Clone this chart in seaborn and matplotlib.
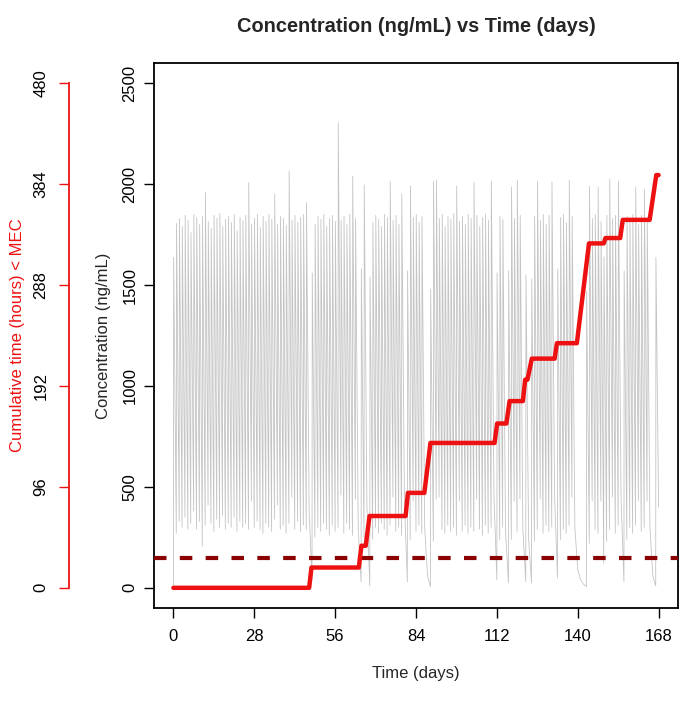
"""Concentration vs time with cumulative time below MEC on a second (left) axis."""
import numpy as np
import pandas as pd
import matplotlib
matplotlib.use("Agg")
import matplotlib.pyplot as plt
import seaborn as sns

NAN = np.nan

# peak concentration (ng/mL) after the dose of each day 0..167, NAN = missed dose
PEAK = [
    1637, 1805, 1830, 1790, 1845, 1820, 1760, 1850, 1835, 1800, 1840, 1958, 1815, 1780,
    1845, 1830, 1855, 1790, 1825, 1840, 1810, 1850, 1770, 1835, 1820, 1845, 2007, 1800,
    1830, 1850, 1785, 1840, 1815, 1850, 1825, 1951, 1800, 1840, 1830, 1795, 2065, 1820,
    1845, 1810, 1835, 1850, 1909, NAN, 1560, 1800, 1840, 1825, 1850, 1790, 1830, 1845,
    1815, 2304, 1820, 1840, 1800, 1850, 2040, 1830, NAN, 1580, 1996, NAN, 1540, 1810,
    1845, 1825, 1790, 1850, 1835, 2012, 1820, 1845, 1800, 1951, NAN, 1570, 1991, 1835,
    1850, 1810, 1840, NAN, NAN, 1480, 2015, 2020, 1830, 1850, 1790, 1840, 1825, 1855,
    1990, 1815, 1840, 1800, 1850, 1830, 2010, 1845, 1790, 1835, 1850, 1820, 2015, NAN,
    1560, 1840, 1825, NAN, 1570, 1985, 1830, 2020, 1845, NAN, 1550, NAN, 1530, 1840,
    2015, 1820, 1850, 1800, 1845, 2010, NAN, 1580, 1835, 1850, 1810, 2020, 1840, NAN,
    NAN, NAN, NAN, 1470, 1990, 1830, 1850, 1985, 1815, 1640, 1845, 2025, 1830, 1845,
    2015, NAN, 1570, 1840, 1820, 1850, 1985, 1800, 1845, 1975, 1830, NAN, NAN, 1637,
]

# concentration (ng/mL) at the start of each day 0..168 (pre-dose trough)
TROUGH = [
    0, 270, 330, 300, 350, 290, 320, 380, 290, 330, 205, 310, 410, 320,
    280, 340, 300, 360, 290, 320, 300, 350, 280, 330, 300, 320, 290, 430,
    300, 330, 290, 270, 320, 300, 280, 340, 410, 290, 310, 270, 320, 450,
    290, 330, 280, 310, 290, 380, 40, 250, 300, 280, 320, 290, 260, 310,
    280, 300, 460, 270, 320, 290, 260, 440, 290, 30, 250, 410, 10, 240,
    300, 270, 320, 290, 260, 310, 450, 280, 300, 260, 420, 30, 240, 430,
    280, 310, 270, 300, 60, 5, 230, 440, 450, 290, 270, 310, 280, 300,
    260, 430, 280, 310, 270, 300, 280, 440, 290, 260, 310, 270, 300, 450,
    40, 240, 300, 280, 25, 240, 430, 280, 440, 290, 30, 240, 25, 230,
    290, 440, 270, 310, 280, 300, 440, 50, 240, 290, 270, 310, 450, 300,
    90, 40, 18, 6, 220, 430, 290, 270, 430, 120, 230, 290, 450, 270,
    310, 440, 30, 240, 300, 270, 310, 430, 280, 300, 430, 300, 60, 10,
    400,
]

# cumulative hours spent below the MEC
RED_DAY = [0, 47.0, 47.8, 64.2, 65.1, 66.6, 67.9, 80.4, 81.2, 86.9, 89.0,
           111.2, 112.1, 115.3, 116.4, 121.0, 121.8, 122.6, 124.1, 132.0, 132.8,
           139.7, 143.9, 149.0, 149.6, 154.7, 155.6, 164.9, 167.2, 168.0]
RED_HOURS = [0, 0, 19.3, 19.3, 40.0, 40.0, 68.3, 68.3, 90.3, 90.3, 137.8,
             137.8, 156.3, 156.3, 177.6, 177.6, 198.0, 198.0, 218.0, 218.0, 232.7,
             232.7, 327.6, 327.6, 332.7, 332.7, 350.0, 350.0, 392.6, 392.6]

MEC = 150
X_TICKS = [0, 28, 56, 84, 112, 140, 168]
Y_TICKS = [0, 500, 1000, 1500, 2000, 2500]
H_TICKS = [0, 96, 192, 288, 384, 480]


def _gray_frame() -> pd.DataFrame:
    days, conc = [], []
    for d, peak in enumerate(PEAK):
        days.append(d)
        conc.append(TROUGH[d])
        if not np.isnan(peak):
            days.append(d + 0.08)
            conc.append(peak)
    days.append(len(PEAK))
    conc.append(TROUGH[-1])
    return pd.DataFrame({"day": days, "conc": conc})


def main() -> None:
    sns.set_theme(style="white")
    plt.rcParams["font.family"] = ["Liberation Sans", "DejaVu Sans"]

    fig = plt.figure(figsize=(6.92, 7.04), dpi=100)
    ax = fig.add_axes([154 / 692, 1 - 608 / 704, 524 / 692, 545 / 704])

    gray = _gray_frame()
    sns.lineplot(data=gray, x="day", y="conc", sort=False, estimator=None,
                 color="#C4C4C4", lw=0.6, ax=ax)
    ax.axhline(MEC, color="#8B0000", lw=3, ls=(0, (3, 3.2)), zorder=3)

    ax.set_xlim(-6.72, 174.72)
    ax.set_ylim(-100, 2600)
    ax.set_xticks(X_TICKS)
    ax.set_yticks(Y_TICKS)
    ax.tick_params(axis="both", direction="out", length=7, width=1, color="black",
                   labelsize=12, labelcolor="black", left=True, bottom=True)
    ax.tick_params(axis="x", pad=8)
    ax.tick_params(axis="y", pad=5)
    for lab in ax.get_yticklabels():
        lab.set_rotation(90)
        lab.set_va("center")
    for sp in ax.spines.values():
        sp.set_color("black")
        sp.set_linewidth(1.3)
    ax.set_xlabel("Time (days)", fontsize=12, labelpad=16)
    ax.set_ylabel("Concentration (ng/mL)", fontsize=12, labelpad=8)
    ax.set_title("Concentration (ng/mL) vs Time (days)", fontsize=14.4,
                 fontweight="bold", pad=22)

    ax2 = ax.twinx()
    sns.lineplot(x=RED_DAY, y=RED_HOURS, sort=False, estimator=None,
                 color="#EE1111", lw=3.2, ax=ax2, solid_capstyle="round")
    ax2.set_ylim(-100 * 480 / 2500, 2600 * 480 / 2500)
    ax2.yaxis.tick_left()
    ax2.yaxis.set_label_position("left")
    ax2.set_yticks(H_TICKS)
    for name in ("right", "top", "bottom"):
        ax2.spines[name].set_visible(False)
    ax2.spines["left"].set_position(("outward", 61))
    ax2.spines["left"].set_bounds(0, 480)
    ax2.spines["left"].set_color("#EE1111")
    ax2.spines["left"].set_linewidth(1.3)
    ax2.tick_params(axis="y", direction="out", length=7, width=1, color="#EE1111",
                    labelsize=12, labelcolor="black", pad=8, left=True)
    for lab in ax2.get_yticklabels():
        lab.set_rotation(90)
        lab.set_va("center")
    ax2.set_ylabel("Cumulative time (hours) < MEC", color="#EE1111",
                   fontsize=12, labelpad=6)

    fig.savefig("out.png", dpi=100)
    plt.close(fig)


if __name__ == "__main__":
    main()
